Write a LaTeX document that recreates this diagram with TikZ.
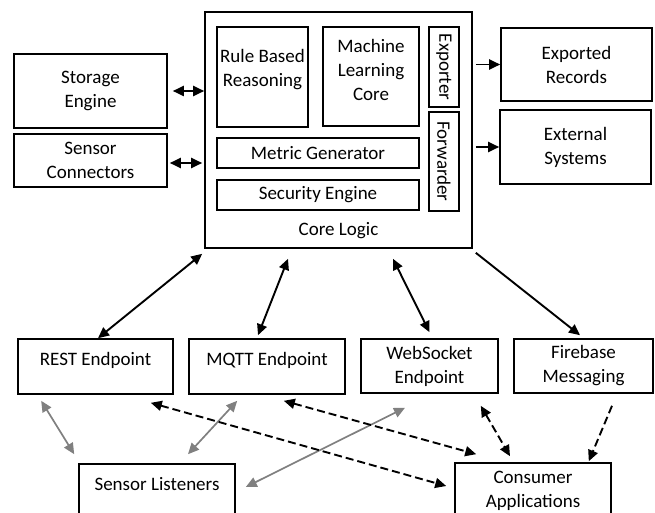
\documentclass[tikz,border=0pt]{standalone}
\usepackage{fontspec}
\setmainfont{Carlito}
\usetikzlibrary{arrows.meta}

\tikzset{
    box/.style={draw, line width=1.6pt, align=center, inner sep=0pt},
    topline/.style={text height=13pt, text depth=15pt},
    link/.style={line width=1.9pt},
    greylink/.style={line width=1.7pt, color=black!50},
    dashlink/.style={line width=1.9pt, dash pattern=on 8pt off 4pt},
}

\begin{document}
\begin{tikzpicture}[x=1pt, y=-1pt, >={Triangle[length=11pt,width=10pt]},
    every node/.style={font=\fontsize{19}{24}\selectfont}]
    \useasboundingbox (0,0) rectangle (655,513);
    \clip (0,0) rectangle (655,513);
    % core and its parts
    \node[box, minimum width=267pt, minimum height=236pt,
          label={[anchor=base, inner sep=0pt, yshift=13pt]south:Core Logic}] (core) at (338.5,130) {};
    \node[box, minimum width=91pt, minimum height=100pt, text depth=18pt] (rule) at (262.5,77) {Rule Based\\Reasoning};
    \node[box, minimum width=96pt, minimum height=99pt, text depth=14pt] (ml) at (371,76.5) {Machine\\Learning\\Core};
    \node[box, minimum width=80pt, minimum height=30pt, rotate=-90] (exporter) at (444,67) {Exporter};
    \node[box, minimum width=99pt, minimum height=30pt, rotate=-90] (forwarder) at (444,161.5) {Forwarder};
    \node[box, minimum width=202pt, minimum height=30pt] (metric) at (318,153) {Metric Generator};
    \node[box, minimum width=202pt, minimum height=30pt] (security) at (318,195) {Security Engine};
    % left and right
    \node[box, minimum width=153pt, minimum height=74pt] (storage) at (90.5,91) {Storage\\Engine};
    \node[box, minimum width=153pt, minimum height=53pt] (connectors) at (90.5,160.5) {Sensor\\Connectors};
    \node[box, minimum width=151pt, minimum height=73pt] (exported) at (576.5,64.5) {Exported\\Records};
    \node[box, minimum width=151pt, minimum height=74pt] (external) at (575.5,147) {External\\Systems};
    % endpoints
    \node[box, minimum width=155pt, minimum height=55pt, topline] (rest) at (95.5,366.5) {REST Endpoint};
    \node[box, minimum width=156pt, minimum height=55pt, topline] (mqtt) at (267,366.5) {MQTT Endpoint};
    \node[box, minimum width=137pt, minimum height=54pt] (websocket) at (429.5,366) {WebSocket\\Endpoint};
    \node[box, minimum width=139pt, minimum height=54pt] (firebase) at (583.5,366) {Firebase\\Messaging};
    % bottom row
    \node[box, minimum width=156pt, minimum height=55pt, topline] (listeners) at (157,491.5) {Sensor Listeners};
    \node[box, minimum width=156pt, minimum height=55pt] (consumer) at (533,490.5) {Consumer\\Applications};

    % links to the core
    \draw[link, <->, shorten <=5pt] (storage.east) -- (storage.east -| core.west);
    \draw[link, <->, shorten <=2pt, shorten >=2pt] ([yshift=-2.5pt]connectors.east) -- ([yshift=-2.5pt]connectors.east -| core.west);
    \draw[link, ->, shorten <=3pt] (core.east |- exported.west) -- (exported.west);
    \draw[link, ->, shorten <=3pt] (core.east |- external.west) -- (external.west);
    \draw[link, <->] ([xshift=-2pt,yshift=-5pt]core.south west) -- ([xshift=2.5pt]rest.north);
    \draw[link, <->] ([xshift=-50.5pt,yshift=-10pt]core.south) -- ([xshift=-9pt,yshift=3pt]mqtt.north);
    \draw[link, <->] ([xshift=54.5pt,yshift=-10pt]core.south) -- ([yshift=6pt]websocket.north);
    \draw[link, ->] ([xshift=3pt,yshift=-4pt]core.south east) -- ([xshift=-3.5pt,yshift=3pt]firebase.north);

    % sensor listeners
    \draw[greylink, <->] ([xshift=24pt,yshift=-6pt]rest.south west) -- ([xshift=-4pt,yshift=9pt]listeners.north west);
    \draw[greylink, <->] ([xshift=49pt,yshift=-6pt]mqtt.south west) -- ([xshift=31pt,yshift=9pt]listeners.north);
    \draw[greylink, <->] ([xshift=10pt,yshift=4.5pt]listeners.east) -- ([xshift=-24.5pt,yshift=-14pt]websocket.south);

    % consumer applications
    \draw[dashlink, <->] ([xshift=-23pt,yshift=-8pt]rest.south east) -- ([xshift=-8pt,yshift=4.5pt]consumer.west);
    \draw[dashlink, <->] ([xshift=-62pt,yshift=-6pt]mqtt.south east) -- ([xshift=22pt,yshift=8pt]consumer.north west);
    \draw[dashlink, <->] ([xshift=-18pt,yshift=-12pt]websocket.south east) -- ([xshift=-23pt,yshift=6pt]consumer.north);
    \draw[dashlink, ->] ([xshift=28.5pt,yshift=-12pt]firebase.south) -- ([xshift=-23pt,yshift=1pt]consumer.north east);
\end{tikzpicture}
\end{document}
